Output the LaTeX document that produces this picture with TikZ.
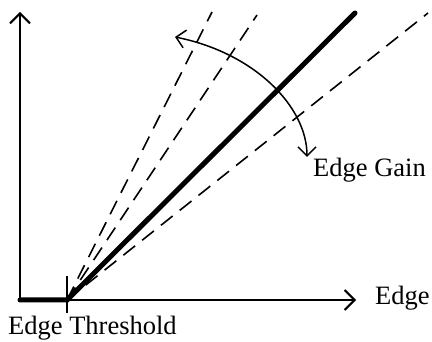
\documentclass[tikz,border=0pt]{standalone}
\usepackage{fontspec}
\setmainfont{Liberation Serif}
\usepackage{tikz}
\usetikzlibrary{arrows.meta}

\begin{document}
\begin{tikzpicture}[x=1pt, y=-1pt,
    axis/.style={line width=2pt, -{Straight Barb[length=10pt, width=20pt]}},
    guide/.style={line width=1.6pt, dash pattern=on 15pt off 9pt},
    curve/.style={line width=5pt, line cap=round},
    lbl/.style={font=\fontsize{26.5}{31}\selectfont, inner sep=0pt}]

    \useasboundingbox (0,0) rectangle (432,342);

    \coordinate (corner) at (20,300);
    \coordinate (thrpt) at (67,300);
    \coordinate (xend) at (356,300);
    \coordinate (yend) at (20,12);

    % axes
    \draw[axis] (corner) -- (xend);
    \draw[axis] (corner) -- (yend);

    % threshold tick
    \coordinate (ticktop) at (67,276);
    \coordinate (tickbot) at (67,313);
    \draw[line width=1.7pt] (ticktop) -- (tickbot);

    % other gains
    \coordinate (g1) at (428,13);
    \coordinate (g2) at (257,15);
    \coordinate (g3) at (212,12);
    \draw[guide] (thrpt) -- (g1);
    \draw[guide] (thrpt) -- (g2);
    \draw[guide] (thrpt) -- (g3);

    % response
    \coordinate (resend) at (355,13);
    \draw[curve] (corner) -- (thrpt) -- (resend);

    % gain arrow
    \coordinate (arcl) at (175,37);
    \coordinate (arcr) at (307,157);
    \draw[line width=1.5pt, {Straight Barb[length=9pt, width=18pt]}-{Straight Barb[length=9pt, width=18pt]}]
        (arcl) .. controls (255,53) and (307,107) .. (arcr);

    \node[lbl, anchor=base west] (thrlabel) at (8,335) {Edge Threshold};
    \node[lbl, anchor=base west] (xlabel) at (375,305) {Edge};
    \node[lbl, anchor=base west] (gainlabel) at (313,177) {Edge Gain};

\end{tikzpicture}
\end{document}
